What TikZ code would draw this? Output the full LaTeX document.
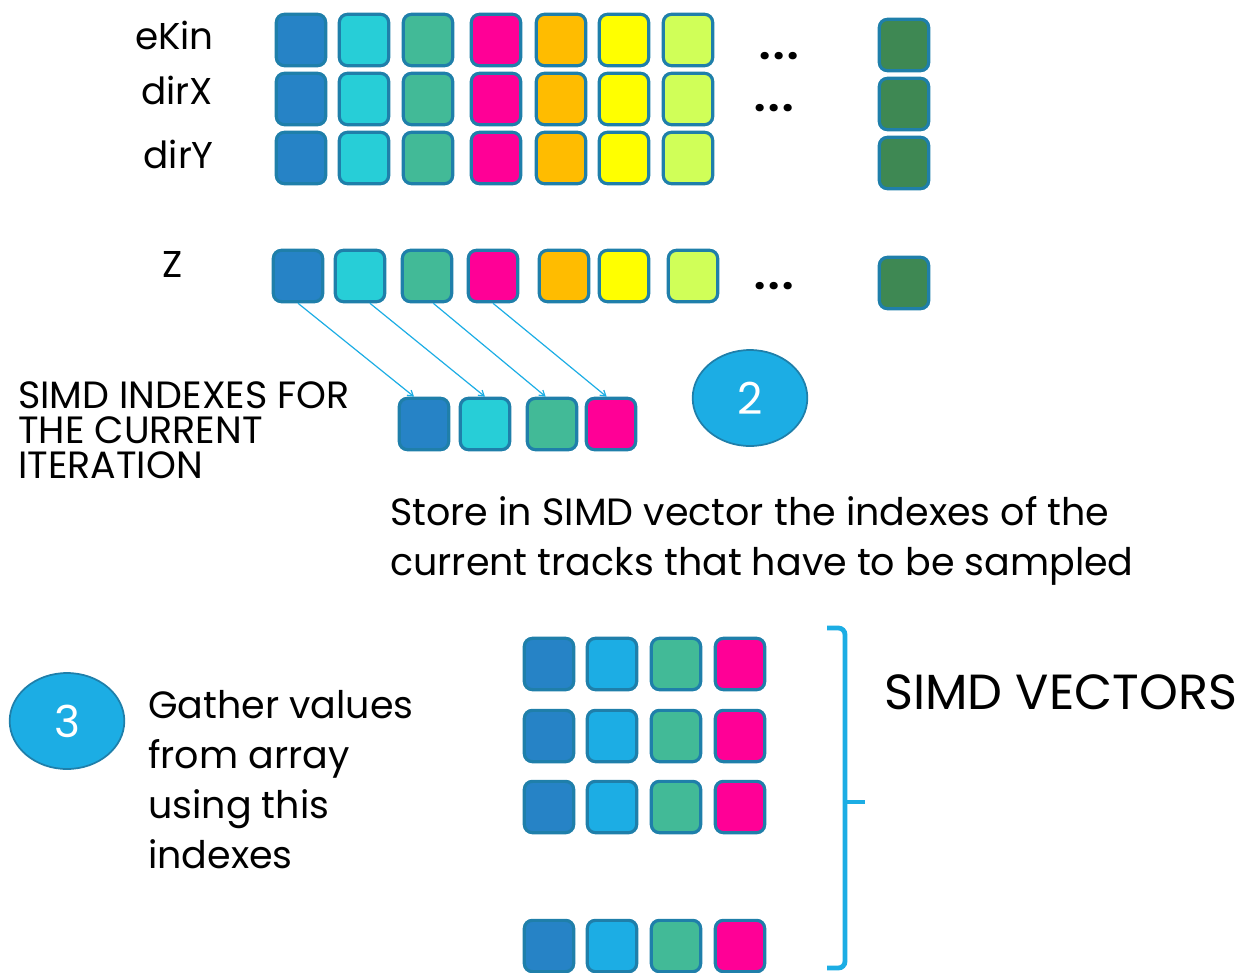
\documentclass[tikz,border=0pt]{standalone}
\usepackage{fontspec}
\setmainfont{Poppins}
\usetikzlibrary{arrows.meta}
\usetikzlibrary{shapes.geometric}
\definecolor{cellblue}{HTML}{2683C6}
\definecolor{cellturq}{HTML}{27CED7}
\definecolor{cellgreen}{HTML}{42BA97}
\definecolor{cellpink}{HTML}{FF0096}
\definecolor{cellorange}{HTML}{FFBC00}
\definecolor{cellyellow}{HTML}{FFFF00}
\definecolor{celllime}{HTML}{D0FF58}
\definecolor{celldkgreen}{HTML}{3E8853}
\definecolor{celllblue}{HTML}{1CADE4}
\definecolor{celledge}{HTML}{1F7FAA}

\begin{document}
\begin{tikzpicture}[x=0.75pt,y=-0.75pt,
  cell/.style={draw=celledge,line width=2.4pt,rounded corners=6pt,inner sep=0pt,
    minimum width=37pt,minimum height=38.5pt},
  stepnum/.style={ellipse,fill=celllblue,draw=celledge,line width=1.3pt,inner sep=0pt,
    minimum width=86pt,minimum height=72pt,text=white,font=\fontsize{33}{34}\selectfont},
  lbl/.style={inner sep=0pt,font=\fontsize{28}{30}\selectfont},
  dotsrow/.style={inner sep=0pt,font=\fontsize{30}{32}\selectfont\bfseries},
  txt/.style={inner sep=0pt,anchor=north west,align=left,font=\fontsize{28.5}{37.5}\selectfont},
  link/.style={draw=celllblue,line width=0.9pt,-{Straight Barb[length=4pt,width=5pt]}}]
\useasboundingbox (0,0) rectangle (1244,972);

% arrays of the tracks
\foreach \y/\r in {40/e,99/x,158/y}{
  \foreach \x/\c [count=\i] in {301/cellblue,364/cellturq,428/cellgreen,496/cellpink,
      561/cellorange,624/cellyellow,688/celllime}
    \node[cell,fill=\c] (\r\i) at (\x,\y) {};
  \node[cell,fill=celldkgreen] (\r8) at (904,\y+5) {};
}
\node[lbl,anchor=east] (lekin) at (214,35) {eKin};
\node[lbl,anchor=east] (ldirx) at (213,90) {dirX};
\node[lbl,anchor=east] (ldiry) at (214,154) {dirY};
\node[dotsrow] (dots1) at (779,56) {.\kern1.8pt.\kern1.8pt.};
\node[dotsrow] (dots2) at (774,108) {.\kern1.8pt.\kern1.8pt.};

% z array
\foreach \x/\c [count=\i] in {298/cellblue,360/cellturq,427/cellgreen,493/cellpink,
    564/cellorange,624/cellyellow,693/celllime}
  \node[cell,fill=\c] (z\i) at (\x,276) {};
\node[cell,fill=celldkgreen] (z8) at (904,283) {};
\node[lbl] (lz) at (173,264) {Z};
\node[dotsrow] (dots3) at (774,286) {.\kern1.8pt.\kern1.8pt.};

% simd indexes
\foreach \x/\c [count=\i] in {424/cellblue,485/cellturq,552/cellgreen,611/cellpink}
  \node[cell,fill=\c] (s\i) at (\x,424) {};
\draw[link] (z1.south) -- (s1.110);
\draw[link] (z2.-70) -- (s2.north);
\draw[link] (z3.-77) -- (s3.103);
\draw[link] (z4.south) -- (s4.99);
\node[txt,font=\fontsize{28.5}{26.5}\selectfont] (tidx) at (18,381)
  {SIMD INDEXES FOR\\THE CURRENT\\ITERATION};
\node[stepnum] (n2) at (750,398) {2};
\node[txt] (tstore) at (390,496)
  {Store in SIMD vector the indexes of the\\current tracks that have to be sampled};

% gathered vectors
\foreach \y [count=\j] in {664,736,807,946}
  \foreach \x/\c [count=\i] in {549/cellblue,612/celllblue,676/cellgreen,740/cellpink}
    \node[cell,fill=\c] (v\j\i) at (\x,\y) {};
\draw[draw=celllblue,line width=3.6pt,rounded corners=5pt]
  (827,628) -- (845,628) -- (845,968) -- (827,968);
\draw[draw=celllblue,line width=3.6pt] (845,802) -- (865,802);
\node[txt,anchor=west,font=\fontsize{37}{40}\selectfont] (tvec) at (884,692) {SIMD VECTORS};
\node[stepnum] (n3) at (67,721) {3};
\node[txt] (tgather) at (148,690) {Gather values\\from array\\using this\\indexes};
\end{tikzpicture}
\end{document}
